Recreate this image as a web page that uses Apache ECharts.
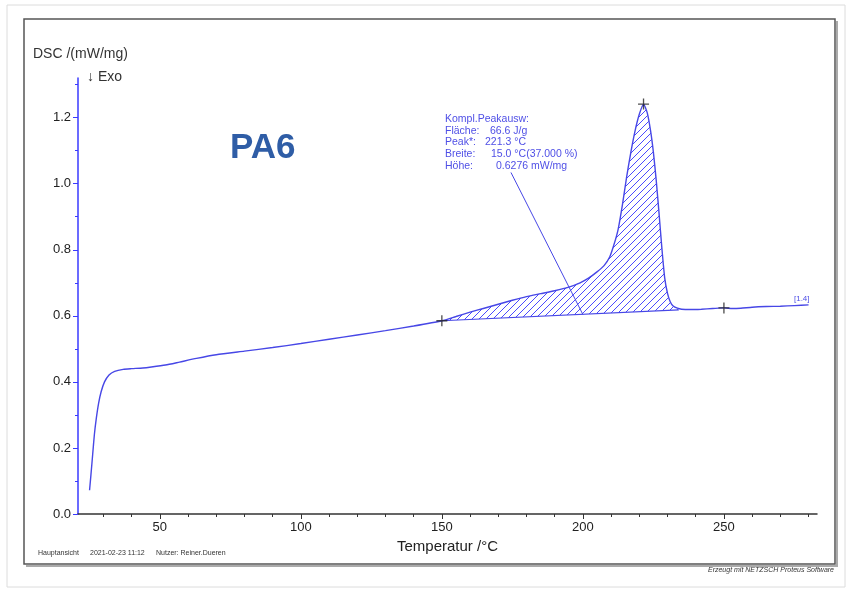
<!DOCTYPE html>
<html>
<head>
<meta charset="utf-8">
<title>PA6 DSC</title>
<script src="https://cdn.jsdelivr.net/npm/echarts@6/dist/echarts.min.js"></script>
<style>
  html, body { margin: 0; padding: 0; background: #fff; }
  #main { width: 850px; height: 596px; }
</style>
</head>
<body>
<div id="main"></div>
<script>
// DSC curve of PA6
var tempC = [25.1, 25.6, 26.2, 26.8, 27.5, 28.3, 29.2, 30.4, 32, 34, 37, 40, 44, 47, 52, 57, 63, 70, 80, 90,
  100, 110, 120, 130, 140, 150, 155, 160, 165, 170, 175, 180, 185, 190, 195, 199, 202, 205, 207.5, 209.5,
  211, 212.5, 214, 215.5, 217, 218.5, 220, 221.5, 222.8, 224, 225, 226, 227, 228, 229, 230, 231, 232, 233.5,
  235, 238, 242, 246, 250, 253, 256, 260, 265, 270, 275, 280];
var dsc = [0.072, 0.12, 0.18, 0.24, 0.29, 0.335, 0.37, 0.40, 0.421, 0.432, 0.438, 0.440, 0.442, 0.445, 0.451, 0.46, 0.471, 0.482, 0.493, 0.504,
  0.516, 0.529, 0.542, 0.555, 0.569, 0.585, 0.598, 0.611, 0.623, 0.635, 0.647, 0.658, 0.667, 0.676, 0.687, 0.700, 0.714, 0.733, 0.752, 0.778,
  0.815, 0.862, 0.935, 1.02, 1.095, 1.16, 1.21, 1.241, 1.215, 1.16, 1.095, 1.01, 0.91, 0.805, 0.715, 0.668, 0.642, 0.63, 0.623,
  0.62, 0.619, 0.62, 0.622, 0.624, 0.622, 0.623, 0.626, 0.628, 0.629, 0.631, 0.633];

// peak evaluation: baseline, markers, leader line
var baseT = [150, 234];
var baseV = [0.585, 0.618];
var markT = [150, 221.5, 250];
var markV = [0.585, 1.241, 0.624];
var leaderT = [174.5, 200];
var leaderV = [1.034, 0.604];

var xTicks = [50, 100, 150, 200, 250];
var xMinor = [30, 40, 60, 70, 80, 90, 110, 120, 130, 140, 160, 170, 180, 190, 210, 220, 230, 240, 260, 270, 280];
var yTicks = [0, 0.2, 0.4, 0.6, 0.8, 1.0, 1.2];
var yMinor = [0.1, 0.3, 0.5, 0.7, 0.9, 1.1, 1.3];

var peakLabels = ['Kompl.Peakausw:', 'Fläche:', 'Peak*:', 'Breite:', 'Höhe:'];
var peakValues = ['', '66.6 J/g', '221.3 °C', '15.0 °C(37.000 %)', '0.6276 mW/mg'];

var FONT = '"Liberation Sans", Arial, sans-serif';
var BLUE = '#4747e6';

function pairs(xs, ys) {
  return xs.map(function (x, i) { return [x, ys[i]]; });
}

// hatch pattern for the peak area
var hatch = document.createElement('canvas');
hatch.width = 7;
hatch.height = 7;
var hc = hatch.getContext('2d');
hc.strokeStyle = '#4a4aff';
hc.lineWidth = 1;
hc.beginPath();
hc.moveTo(0, 7); hc.lineTo(7, 0);
hc.moveTo(-1, 1); hc.lineTo(1, -1);
hc.moveTo(6, 8); hc.lineTo(8, 6);
hc.stroke();

var chart = echarts.init(document.getElementById('main'));

var option = {
  animation: false,
  backgroundColor: '#fff',
  grid: { left: 78, right: 33, top: 78, bottom: 82, containLabel: false },
  xAxis: [{
    type: 'value', min: 21, max: 283, z: 10,
    name: 'Temperatur /°C', nameLocation: 'middle', nameGap: 21,
    nameTextStyle: { fontFamily: FONT, fontSize: 15, color: '#222' },
    axisLine: { onZero: false, lineStyle: { color: '#333', width: 1.5 } },
    axisTick: { customValues: xTicks, length: 5, lineStyle: { color: '#333' } },
    axisLabel: { customValues: xTicks, margin: 7, fontFamily: FONT, fontSize: 13, color: '#222' },
    splitLine: { show: false }
  }, {
    type: 'value', min: 21, max: 283, position: 'bottom', z: 10,
    axisLine: { show: false },
    axisTick: { customValues: xMinor, length: 3, lineStyle: { color: '#333' } },
    axisLabel: { show: false },
    splitLine: { show: false }
  }],
  yAxis: [{
    type: 'value', min: 0, max: 1.32, z: 10,
    axisLine: { show: true, onZero: false, lineStyle: { color: '#3a3aff', width: 1.5 } },
    axisTick: { show: true, customValues: yTicks, length: 5, lineStyle: { color: '#3a3aff' } },
    axisLabel: {
      customValues: yTicks, margin: 7, fontFamily: FONT, fontSize: 13, color: '#222',
      formatter: function (v) { return v.toFixed(1); }
    },
    splitLine: { show: false }
  }, {
    type: 'value', min: 0, max: 1.32, position: 'left', z: 10,
    axisLine: { show: false },
    axisTick: { show: true, customValues: yMinor, length: 3, lineStyle: { color: '#3a3aff' } },
    axisLabel: { show: false },
    splitLine: { show: false }
  }],
  series: [
    {
      type: 'custom', silent: true, z: 1, clip: true,
      data: [[baseT[0], baseV[0]]],
      renderItem: function (params, api) {
        var pts = [];
        for (var i = 0; i < tempC.length; i++) {
          if (tempC[i] >= baseT[0] && tempC[i] <= baseT[1]) pts.push(api.coord([tempC[i], dsc[i]]));
        }
        pts.push(api.coord([baseT[1], baseV[1]]));
        pts.push(api.coord([baseT[0], baseV[0]]));
        return { type: 'polygon', shape: { points: pts }, style: { fill: { image: hatch, repeat: 'repeat' } } };
      }
    },
    {
      type: 'line', data: pairs(tempC, dsc), showSymbol: false, smooth: 0.2, z: 3,
      lineStyle: { color: BLUE, width: 1.4 }
    },
    {
      type: 'line', data: pairs(baseT, baseV), showSymbol: false, z: 3,
      lineStyle: { color: BLUE, width: 1.1 }
    },
    {
      type: 'line', data: pairs(leaderT, leaderV), showSymbol: false, z: 3,
      lineStyle: { color: BLUE, width: 1 }
    },
    {
      type: 'scatter', data: pairs(markT, markV), z: 4,
      symbol: 'path://M4.4,0H5.6V4.4H10V5.6H5.6V10H4.4V5.6H0V4.4H4.4Z',
      symbolSize: 11,
      itemStyle: { color: '#222' }
    }
  ]
};
chart.setOption(option);

// decorations: frame, labels, peak evaluation text
var graphics = [
  { type: 'rect', shape: { x: 7, y: 5, width: 838, height: 582 }, style: { fill: null, stroke: '#dcdcdc', lineWidth: 1 }, z: -1 },
  { type: 'rect', shape: { x: 24, y: 19, width: 811, height: 545 }, style: { fill: null, stroke: '#555', lineWidth: 1.5 }, z: -1 },
  { type: 'polyline', shape: { points: [[837, 21], [837, 566], [26, 566]] }, style: { fill: null, stroke: '#aaa', lineWidth: 2 }, z: -1 },
  { type: 'text', x: 33, y: 54, style: { text: 'DSC /(mW/mg)', font: '14px ' + FONT, fill: '#333', verticalAlign: 'middle' } },
  { type: 'text', x: 87, y: 77, style: { text: '↓ Exo', font: '14px ' + FONT, fill: '#333', verticalAlign: 'middle' } },
  { type: 'text', x: 230, y: 148, style: { text: 'PA6', font: 'bold 35px ' + FONT, fill: '#2f5da6', verticalAlign: 'middle' } },
  { type: 'text', x: 38, y: 553, style: { text: 'Hauptansicht', font: '7px ' + FONT, fill: '#333', verticalAlign: 'middle' } },
  { type: 'text', x: 90, y: 553, style: { text: '2021-02-23 11:12', font: '7px ' + FONT, fill: '#333', verticalAlign: 'middle' } },
  { type: 'text', x: 156, y: 553, style: { text: 'Nutzer: Reiner.Dueren', font: '7px ' + FONT, fill: '#333', verticalAlign: 'middle' } },
  { type: 'text', x: 834, y: 570, style: { text: 'Erzeugt mit NETZSCH Proteus Software', font: 'italic 7px ' + FONT, fill: '#333', align: 'right', verticalAlign: 'middle' } }
];

var lineY = [119.5, 131, 142.5, 154.5, 166.5];
var valueX = [0, 490, 485, 491, 496];
peakLabels.forEach(function (t, i) {
  graphics.push({ type: 'text', x: 445, y: lineY[i], style: { text: t, font: '10.5px ' + FONT, fill: '#4f4fe6', verticalAlign: 'middle' } });
  if (peakValues[i]) {
    graphics.push({ type: 'text', x: valueX[i], y: lineY[i], style: { text: peakValues[i], font: '10.5px ' + FONT, fill: '#4f4fe6', verticalAlign: 'middle' } });
  }
});

// segment label at the end of the curve
var endPt = chart.convertToPixel({ gridIndex: 0 }, [tempC[tempC.length - 1], dsc[dsc.length - 1]]);
graphics.push({ type: 'text', x: endPt[0] + 1, y: endPt[1] - 2, style: { text: '[1.4]', font: '8px ' + FONT, fill: '#4f4fe6', align: 'right', verticalAlign: 'bottom' } });

chart.setOption({ graphic: graphics });
</script>
</body>
</html>
